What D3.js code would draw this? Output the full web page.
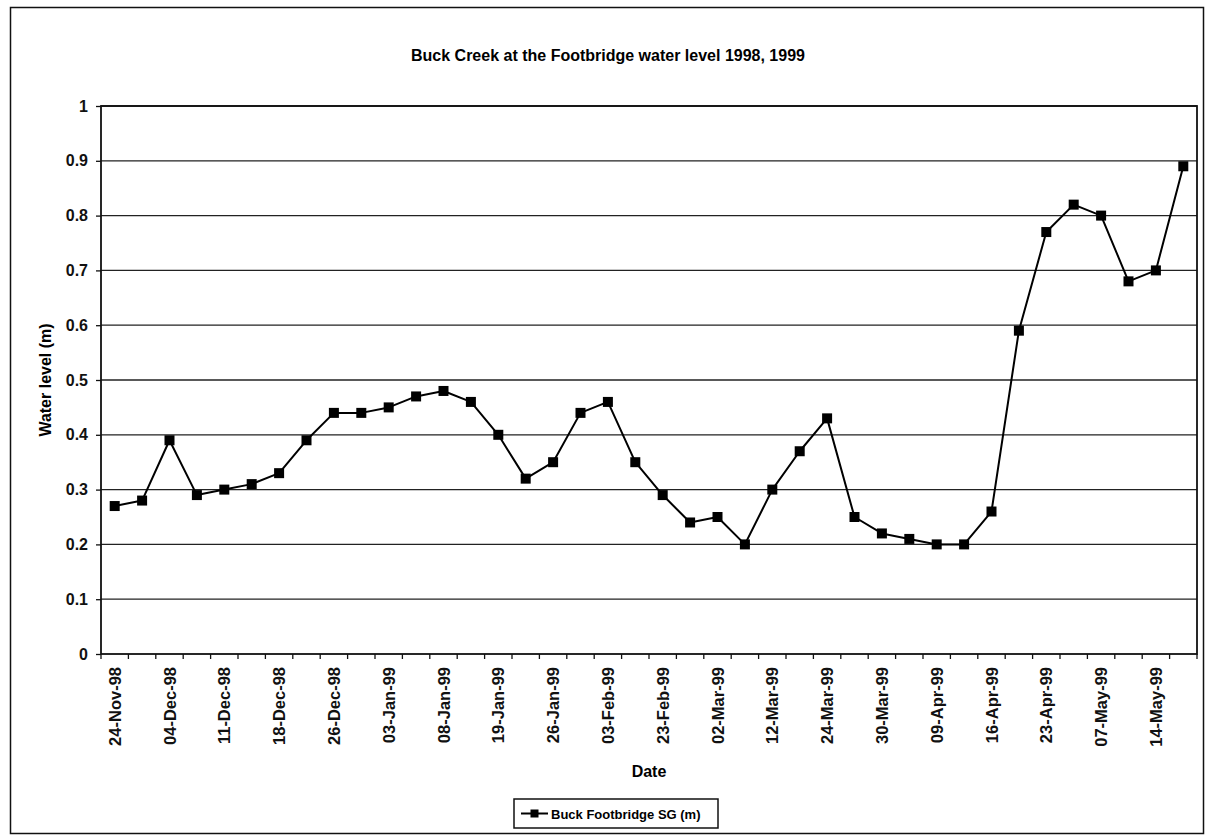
<!DOCTYPE html>
<html>
<head>
<meta charset="utf-8">
<script src="https://cdn.jsdelivr.net/npm/d3@7"></script>
<style>
  html, body { margin: 0; padding: 0; background: #fff; }
  svg { display: block; font-family: "Liberation Sans", Arial, sans-serif; }
</style>
</head>
<body>
<svg id="chart" width="1214" height="840"></svg>
<script>
(function () {
  'use strict';

  // Water level (m), one value per survey date (40 dates, labels on every other one)
  const LEVELS = [
    0.27, 0.28, 0.39, 0.29, 0.30, 0.31, 0.33, 0.39, 0.44, 0.44,
    0.45, 0.47, 0.48, 0.46, 0.40, 0.32, 0.35, 0.44, 0.46, 0.35,
    0.29, 0.24, 0.25, 0.20, 0.30, 0.37, 0.43, 0.25, 0.22, 0.21,
    0.20, 0.20, 0.26, 0.59, 0.77, 0.82, 0.80, 0.68, 0.70, 0.89
  ];

  // Date labels shown under the axis (every second category)
  const DATE_LABELS = [
    '24-Nov-98', '04-Dec-98', '11-Dec-98', '18-Dec-98', '26-Dec-98',
    '03-Jan-99', '08-Jan-99', '19-Jan-99', '26-Jan-99', '03-Feb-99',
    '23-Feb-99', '02-Mar-99', '12-Mar-99', '24-Mar-99', '30-Mar-99',
    '09-Apr-99', '16-Apr-99', '23-Apr-99', '07-May-99', '14-May-99'
  ];

  const Y_TICKS = [0, 0.1, 0.2, 0.3, 0.4, 0.5, 0.6, 0.7, 0.8, 0.9, 1];

  const TITLE = 'Buck Creek at the Footbridge water level 1998, 1999';
  const SERIES_NAME = 'Buck Footbridge SG (m)';

  const svg = d3.select('#chart');
  const plot = { left: 101, right: 1197, top: 106, bottom: 654 };
  const FS = 16;

  // outer chart border
  svg.append('rect')
    .attr('x', 10.5).attr('y', 7.5)
    .attr('width', 1193).attr('height', 826)
    .attr('fill', 'none').attr('stroke', '#111').attr('stroke-width', 1.5);

  svg.append('text')
    .attr('x', 608).attr('y', 61)
    .attr('text-anchor', 'middle')
    .attr('font-size', FS).attr('font-weight', 'bold')
    .text(TITLE);

  const x = d3.scaleBand()
    .domain(d3.range(LEVELS.length))
    .range([plot.left, plot.right]);

  const y = d3.scaleLinear()
    .domain([0, 1])
    .range([plot.bottom, plot.top]);

  // gridlines
  svg.append('g').selectAll('line')
    .data(Y_TICKS.slice(1))
    .join('line')
    .attr('x1', plot.left).attr('x2', plot.right)
    .attr('y1', d => y(d)).attr('y2', d => y(d))
    .attr('stroke', '#222').attr('stroke-width', 1.3);

  // plot area border
  svg.append('rect')
    .attr('x', plot.left).attr('y', plot.top)
    .attr('width', plot.right - plot.left).attr('height', plot.bottom - plot.top)
    .attr('fill', 'none').attr('stroke', '#111').attr('stroke-width', 1.8);

  // y axis
  const yAxis = d3.axisLeft(y)
    .tickValues(Y_TICKS)
    .tickSize(5)
    .tickPadding(8)
    .tickFormat(d => d3.format('~g')(d));
  const gy = svg.append('g')
    .attr('transform', `translate(${plot.left},0)`)
    .call(yAxis);
  gy.select('.domain').remove();
  gy.selectAll('line').attr('stroke', '#111').attr('stroke-width', 1.3);
  gy.selectAll('text')
    .attr('font-size', FS).attr('font-weight', 'bold')
    .attr('font-family', '"Liberation Sans", Arial, sans-serif')
    .attr('fill', '#111');

  // x axis: tick marks between categories
  const bounds = d3.range(LEVELS.length + 1).map(i => plot.left + i * x.bandwidth());
  svg.append('g').selectAll('line')
    .data(bounds)
    .join('line')
    .attr('x1', d => d).attr('x2', d => d)
    .attr('y1', plot.bottom).attr('y2', plot.bottom + 5)
    .attr('stroke', '#111').attr('stroke-width', 1.3);

  svg.append('g').selectAll('text')
    .data(DATE_LABELS)
    .join('text')
    .attr('transform', (d, i) =>
      `translate(${x(i * 2) + x.bandwidth() / 2 + 6},${plot.bottom + 13}) rotate(-90)`)
    .attr('text-anchor', 'end')
    .attr('font-size', 16.5).attr('font-weight', 'bold')
    .attr('fill', '#111')
    .text(d => d);

  // axis titles
  svg.append('text')
    .attr('transform', `translate(51,${(plot.top + plot.bottom) / 2}) rotate(-90)`)
    .attr('text-anchor', 'middle')
    .attr('font-size', FS).attr('font-weight', 'bold')
    .text('Water level (m)');

  svg.append('text')
    .attr('x', (plot.left + plot.right) / 2).attr('y', 777)
    .attr('text-anchor', 'middle')
    .attr('font-size', FS).attr('font-weight', 'bold')
    .text('Date');

  // series
  const cx = i => x(i) + x.bandwidth() / 2;
  const line = d3.line()
    .x((d, i) => cx(i))
    .y(d => y(d));

  svg.append('path')
    .datum(LEVELS)
    .attr('d', line)
    .attr('fill', 'none')
    .attr('stroke', '#000').attr('stroke-width', 2)
    .attr('stroke-linejoin', 'round');

  const m = 10;
  svg.append('g').selectAll('rect')
    .data(LEVELS)
    .join('rect')
    .attr('x', (d, i) => cx(i) - m / 2)
    .attr('y', d => y(d) - m / 2)
    .attr('width', m).attr('height', m)
    .attr('fill', '#000');

  // legend
  const lg = svg.append('g').attr('transform', 'translate(514,799)');
  lg.append('rect')
    .attr('width', 204).attr('height', 29)
    .attr('fill', '#fff').attr('stroke', '#111').attr('stroke-width', 1.5);
  lg.append('line')
    .attr('x1', 7).attr('x2', 34).attr('y1', 14.5).attr('y2', 14.5)
    .attr('stroke', '#000').attr('stroke-width', 2);
  lg.append('rect')
    .attr('x', 20.5 - 4).attr('y', 14.5 - 4)
    .attr('width', 8).attr('height', 8).attr('fill', '#000');
  lg.append('text')
    .attr('x', 37).attr('y', 19.5)
    .attr('font-size', 13).attr('font-weight', 'bold')
    .text(SERIES_NAME);
})();
</script>
</body>
</html>
